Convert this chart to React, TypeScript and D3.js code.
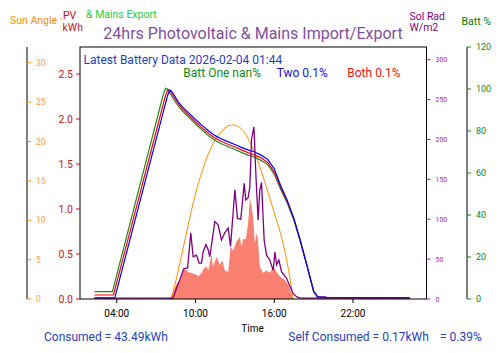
import React from "react";
import * as d3 from "d3";

type Pt = [number, number];

// hours since midnight (values > 24 are next day)
const xTicks = [4, 10, 16, 22];
const pvTicks = [0, 0.5, 1.0, 1.5, 2.0, 2.5];
const sunTicks = [0, 5, 10, 15, 20, 25, 30];
const solTicks = [0, 50, 100, 150, 200, 250, 300];
const battTicks = [0, 20, 40, 60, 80, 100, 120];

// PV kWh (salmon fill)
const pvKwh: Pt[] = [
  [8.04, 0], [8.27, 0.08], [8.57, 0.17], [8.8, 0.21], [9.03, 0.3], [9.18, 0.34], [9.44, 0.3],
  [9.69, 0.29], [10.08, 0.27], [10.2, 0.25], [10.46, 0.29], [10.63, 0.34], [10.84, 0.36],
  [10.98, 0.32], [11.22, 0.49], [11.34, 0.36], [11.6, 0.47], [11.85, 0.38], [12.04, 0.43],
  [12.23, 0.32], [12.49, 0.3], [12.67, 0.58], [12.87, 0.54], [13.13, 0.64], [13.38, 0.69],
  [13.51, 0.58], [13.63, 0.67], [13.83, 0.66], [14.01, 0.84], [14.14, 1.12], [14.26, 1.04],
  [14.39, 0.91], [14.52, 0.62], [14.65, 0.73], [14.75, 0.66], [14.9, 0.36], [15.15, 0.29],
  [15.41, 0.32], [15.66, 0.29], [15.92, 0.36], [16.18, 0.3], [16.43, 0.25], [16.81, 0.21],
  [17.06, 0.16], [17.32, 0.06], [17.44, 0],
];

// Sun elevation, degrees
const sunAngle: Pt[] = [
  [8.17, 0], [8.6, 3], [9, 6], [9.5, 9.8], [10, 13.4], [10.5, 16.2], [11, 18.5], [11.5, 20.2],
  [12, 21.3], [12.5, 22.0], [12.87, 22.1], [13.5, 21.6], [14, 20.4], [14.5, 18.6], [15, 16.3],
  [15.5, 13.7], [16, 10.9], [16.5, 8.2], [17, 4.5], [17.45, 0],
];

// Solar radiation W/m2
const solRad: Pt[] = [
  [2.3, 1], [8.29, 1], [8.5, 11], [8.8, 24], [9.1, 38], [9.4, 39], [9.64, 83], [9.82, 53],
  [10.08, 55], [10.27, 45], [10.46, 45], [10.58, 59], [10.79, 68], [10.96, 62], [11.09, 53],
  [11.47, 97], [11.72, 93], [11.98, 74], [12.23, 83], [12.49, 89], [12.67, 66], [13.0, 137],
  [13.2, 101], [13.45, 100], [13.71, 145], [13.83, 124], [14.01, 127], [14.14, 141],
  [14.27, 200], [14.45, 216], [14.6, 156], [14.77, 99], [14.9, 137], [15.03, 146], [15.23, 74],
  [15.41, 55], [15.66, 49], [15.92, 36], [16.05, 59], [16.18, 43], [16.35, 49], [16.56, 34],
  [16.94, 26], [17.19, 16], [17.44, 7], [17.7, 3], [17.95, 1], [26.34, 1],
];

// Battery state of charge %
const battOne: Pt[] = [
  [2.3, 3.5], [3.67, 3.5], [7.55, 97.5], [7.71, 100.3], [7.85, 100.0], [8.1, 97.5], [8.5, 93.5],
  [9.0, 89.5], [9.5, 86.5], [10.0, 83.3], [10.5, 80.5], [11.0, 77.7], [11.5, 75.5], [12.0, 73.8],
  [12.5, 72.5], [13.0, 71.2], [13.5, 69.8], [14.0, 68.5], [14.5, 67.5], [15.0, 66.0], [15.5, 64.0],
  [16.0, 59.5], [16.5, 52.0], [17.0, 45.5], [17.5, 37.5], [18.0, 27.0], [18.5, 15.5],
  [19.0, 3.5], [19.3, 1.0], [20.0, 0.8], [26.3, 0.6],
];
const battBoth: Pt[] = [
  [2.3, 1.9], [3.75, 1.9], [7.72, 97.0], [7.89, 99.8], [8.03, 99.4], [8.3, 96.8], [8.6, 93.8],
  [9.0, 90.5], [9.5, 87.5], [10.0, 84.3], [10.5, 81.5], [11.0, 78.8], [11.5, 76.6], [12.0, 75.0],
  [12.5, 73.6], [13.0, 72.4], [13.5, 71.0], [14.0, 69.7], [14.5, 68.6], [15.0, 67.2], [15.5, 65.0],
  [16.0, 60.5], [16.5, 53.0], [17.0, 46.3], [17.5, 38.0], [18.0, 27.5], [18.5, 15.8],
  [19.0, 3.8], [19.3, 1.0], [20.0, 0.8], [26.3, 0.6],
];
const battTwo: Pt[] = [
  [2.3, 0.5], [3.85, 0.5], [7.87, 96.8], [8.04, 99.5], [8.18, 99.0], [8.4, 96.8], [8.7, 93.8],
  [9.0, 91.5], [9.5, 88.5], [10.0, 85.5], [10.5, 82.7], [11.0, 80.0], [11.5, 77.8], [12.0, 76.2],
  [12.5, 74.8], [13.0, 73.6], [13.5, 72.2], [14.0, 71.0], [14.5, 70.0], [15.0, 68.5], [15.5, 66.5],
  [16.0, 62.0], [16.5, 53.8], [17.0, 46.8], [17.5, 38.3], [18.0, 27.5], [18.5, 15.8],
  [19.0, 3.8], [19.3, 1.0], [20.0, 0.8], [24.0, 0.6], [26.3, 0.5],
];

const W = 500, H = 353;
const L = 80, R = 426.5, T = 47, B = 299;
const FONT = "Roboto, 'Noto Sans', sans-serif";

function VAxis({ scale, ticks, x, tickColor, labelColor, size, side, fmt, spine }: any) {
  const dir = side === "left" ? -1 : 1;
  return (
    <g>
      {spine && <line x1={x} x2={x} y1={T} y2={B} stroke="#000" strokeWidth={1} />}
      {ticks.map((t: number) => {
        const y = scale(t);
        return (
          <g key={t}>
            <line x1={x} x2={x + dir * 4} y1={y} y2={y} stroke={tickColor} strokeWidth={1} />
            <text x={side === "left" ? x - 7 : x + 9} y={y + size * 0.36}
              textAnchor={side === "left" ? "end" : "start"} fontSize={size} fill={labelColor}>
              {fmt ? fmt(t) : t}
            </text>
          </g>
        );
      })}
    </g>
  );
}

export default function App() {
  const x = d3.scaleLinear().domain([1.2, 27.6]).range([L, R]);
  const yPV = d3.scaleLinear().domain([0, 2.8]).range([B, T]);
  const ySun = d3.scaleLinear().domain([0, 32]).range([B, T]);
  const ySol = d3.scaleLinear().domain([0, 316]).range([B, T]);
  const yBatt = d3.scaleLinear().domain([0, 120]).range([B, T]);

  const pvArea = d3.area<Pt>().x(d => x(d[0])).y0(yPV(0)).y1(d => yPV(d[1]));
  const sunLine = d3.line<Pt>().x(d => x(d[0])).y(d => ySun(d[1])).curve(d3.curveMonotoneX);
  const solLine = d3.line<Pt>().x(d => x(d[0])).y(d => ySol(d[1]));
  const battLine = d3.line<Pt>().x(d => x(d[0])).y(d => yBatt(d[1]));

  const hhmm = (h: number) => `${String(h % 24).padStart(2, "0")}:00`;

  return (
    <svg width={W} height={H} style={{ position: "absolute", left: 0, top: 0, background: "#fff" }}
      fontFamily={FONT}>
      <defs>
        <clipPath id="plot"><rect x={L} y={T} width={R - L} height={B - T} /></clipPath>
      </defs>

      {/* header labels */}
      <text x={10} y={24} fontSize={10.5} fill="#ff8c00">Sun Angle</text>
      <text x={59.5} y={19} fontSize={10.5} fill="#ff8c00">.</text>
      <text x={63} y={19} fontSize={10.5} fill="#cc1111">PV</text>
      <text x={62.5} y={30.5} fontSize={10.5} fill="#cc1111">kWh</text>
      <text x={86} y={18} fontSize={10.5} fill="#22cc44">&amp; Mains Export</text>
      <text x={253} y={38.5} fontSize={16} fill="#8050a0" textAnchor="middle">
        24hrs Photovoltaic &amp; Mains Import/Export
      </text>
      <text x={409.5} y={19.5} fontSize={10.5} fill="#800080">Sol Rad</text>
      <text x={409.5} y={31} fontSize={10.5} fill="#800080">W/m2</text>
      <text x={461.5} y={25} fontSize={10.5} fill="#007700">Batt %</text>

      {/* series */}
      <g clipPath="url(#plot)">
        <path d={pvArea(pvKwh) || ""} fill="#fa8072" />
        <path d={sunLine(sunAngle) || ""} fill="none" stroke="#ff8c00" strokeWidth={1} />
        <path d={battLine(battOne) || ""} fill="none" stroke="#228b22" strokeWidth={1.2} />
        <path d={battLine(battBoth) || ""} fill="none" stroke="#ff0000" strokeWidth={1.2} />
        <path d={battLine(battTwo) || ""} fill="none" stroke="#0000ff" strokeWidth={1.2} />
        <path d={solLine(solRad) || ""} fill="none" stroke="#800080" strokeWidth={1.3} />
      </g>

      <rect x={L} y={T} width={R - L} height={B - T} fill="none" stroke="#000" strokeWidth={1} />

      {/* axes */}
      <VAxis scale={yPV} ticks={pvTicks} x={L} side="left" tickColor="#cc1111" labelColor="#cc1111"
        size={10.5} fmt={(t: number) => t.toFixed(1)} />
      <VAxis scale={ySun} ticks={sunTicks} x={27} side="right" tickColor="#ff8c00" labelColor="#ffa040"
        size={8.5} spine />
      <VAxis scale={ySol} ticks={solTicks} x={R} side="right" tickColor="#a020a0" labelColor="#a030a0"
        size={7} />
      <VAxis scale={yBatt} ticks={battTicks} x={467} side="right" tickColor="#118811" labelColor="#118811"
        size={9} spine />

      {xTicks.map(t => (
        <g key={t}>
          <line x1={x(t)} x2={x(t)} y1={B} y2={B + 4} stroke="#000" />
          <text x={x(t)} y={316.5} fontSize={10} textAnchor="middle" fill="#000">{hhmm(t)}</text>
        </g>
      ))}
      <text x={252.5} y={332} fontSize={10} textAnchor="middle" fill="#000">Time</text>

      {/* info text */}
      <text x={83.5} y={64} fontSize={12} fill="#1f3fbf">Latest Battery Data 2026-02-04 01:44</text>
      <text x={183.3} y={76.5} fontSize={12} fill="#118811">Batt One nan%</text>
      <text x={276.7} y={76.5} fontSize={12} fill="#1010e0">Two 0.1%</text>
      <text x={347.3} y={76.5} fontSize={12} fill="#ff1010">Both 0.1%</text>

      <text x={44} y={341} fontSize={12} fill="#1f3fbf">Consumed = 43.49kWh</text>
      <text x={288.3} y={341} fontSize={12} fill="#1f3fbf">Self Consumed = 0.17kWh</text>
      <text x={440} y={341} fontSize={12} fill="#1f3fbf">= 0.39%</text>
    </svg>
  );
}
